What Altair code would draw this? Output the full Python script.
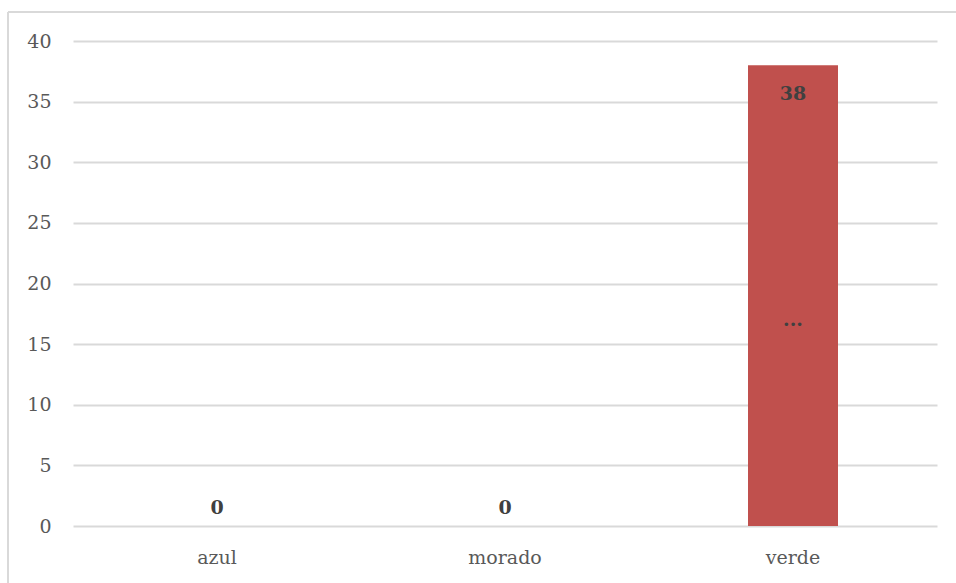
import altair as alt
import pandas as pd

categories = ["azul", "morado", "verde"]
values = [0, 0, 38]
value_labels = ["0", "0", "38"]
extra_labels = ["", "", "..."]
extra_label_pos = [None, None, 17]

FONT = "DejaVu Serif"
GRID = "#d9d9d9"

df = pd.DataFrame({"cat": categories, "val": values, "lab": value_labels})
df_extra = pd.DataFrame({"cat": categories, "pos": extra_label_pos, "lab": extra_labels}).dropna()

x = alt.X("cat:N", sort=categories, title=None,
          scale=alt.Scale(paddingInner=0.6875, paddingOuter=0.34375),
          axis=alt.Axis(labelAngle=0, labelFont=FONT, labelFontSize=19, labelColor="#595959",
                        ticks=False, domain=False, labelPadding=22, grid=False))
y = alt.Y("val:Q", title=None, scale=alt.Scale(domain=[0, 40], nice=False),
          axis=alt.Axis(values=list(range(0, 41, 5)), labelFont=FONT, labelFontSize=19,
                        labelColor="#595959", ticks=False, domain=False, labelPadding=22,
                        gridColor=GRID, gridWidth=2))

bars = alt.Chart(df).mark_bar(color="#c0504d").encode(x=x, y=y)

zero_labels = alt.Chart(df).transform_filter("datum.val == 0").mark_text(
    font=FONT, fontSize=19, fontWeight="bold", color="#404040", baseline="bottom", dy=-8
).encode(x=alt.X("cat:N", sort=categories), y="val:Q", text="lab:N")

top_labels = alt.Chart(df).transform_filter("datum.val > 0").mark_text(
    font=FONT, fontSize=19, fontWeight="bold", color="#404040", baseline="top", dy=20
).encode(x=alt.X("cat:N", sort=categories), y="val:Q", text="lab:N")

extra = alt.Chart(df_extra).mark_text(
    font=FONT, fontSize=19, fontWeight="bold", color="#404040", baseline="middle", dy=0
).encode(x=alt.X("cat:N", sort=categories), y=alt.Y("pos:Q"), text="lab:N")

border_left = alt.Chart(df).mark_rule(color=GRID, strokeWidth=2).encode(
    x=alt.value(-65), y=alt.value(-29), y2=alt.value(560))
border_top = alt.Chart(df).mark_rule(color=GRID, strokeWidth=2).encode(
    x=alt.value(-65), x2=alt.value(900), y=alt.value(-29))

chart = alt.layer(bars, zero_labels, top_labels, extra, border_left, border_top).properties(
    width=864, height=485,
    autosize=alt.AutoSizeParams(type="none"),
    padding={"left": 73, "top": 41, "right": 19, "bottom": 57},
).configure(background="white").configure_view(stroke=None)

chart.save("out.html", embed_options={"renderer": "svg", "actions": False})
